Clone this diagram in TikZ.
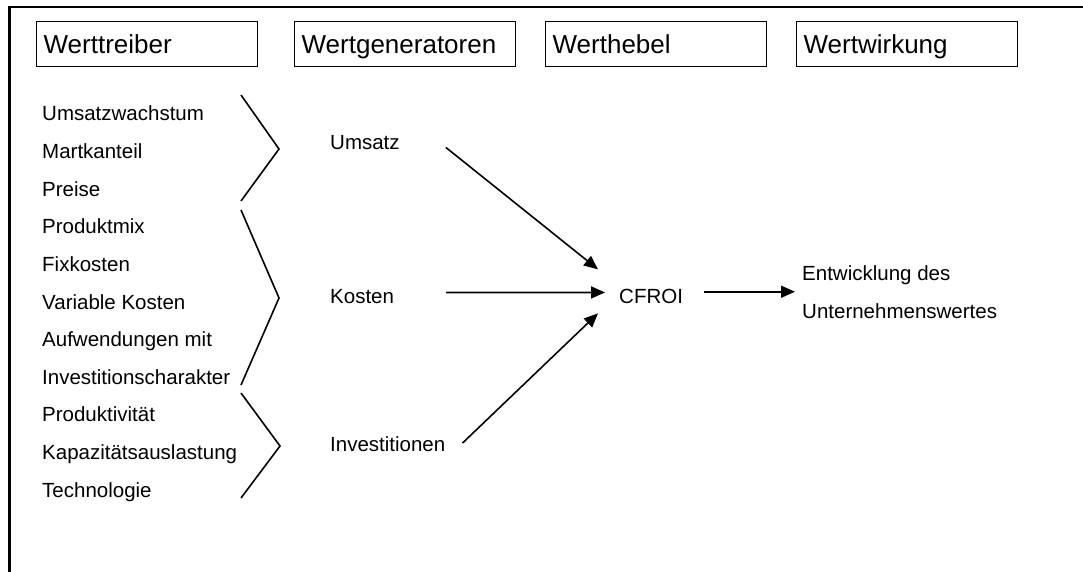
\documentclass[tikz,border=0pt]{standalone}
\usepackage{fontspec}
\setmainfont{Liberation Sans}
\usetikzlibrary{arrows.meta,calc}
\tikzset{
  head/.style={draw, line width=1.3pt, anchor=north west, inner xsep=7pt, inner ysep=0pt,
    minimum height=45pt, text width=207pt, align=left, text height=22pt, text depth=3pt,
    font=\fontsize{26}{30}\selectfont},
  item/.style={anchor=base west, inner sep=0pt, font=\fontsize{20.5}{24}\selectfont},
  brack/.style={line width=1.6pt},
  arr/.style={line width=1.6pt, -{Triangle[length=14pt,width=12pt]}},
  frame/.style={line width=2.2pt}
}
\begin{document}
\begin{tikzpicture}[x=1pt,y=-1pt]
\useasboundingbox (0,0) rectangle (1083,572);
\draw[frame] (9.5,572) -- (9.5,7.3) -- (1083,7.3);

% header boxes
\node[head] (h1) at (36,21) {Werttreiber};
\node[head] (h2) at (294,21) {Wertgeneratoren};
\node[head] (h3) at (545,21) {Werthebel};
\node[head] (h4) at (796,21) {Wertwirkung};

% left column
\node[item] (l1) at (42,121) {Umsatzwachstum};
\node[item] (l2) at (42,158.6) {Martkanteil};
\node[item] (l3) at (42,196.2) {Preise};
\node[item] (l4) at (42,233.8) {Produktmix};
\node[item] (l5) at (42,271.4) {Fixkosten};
\node[item] (l6) at (42,309) {Variable Kosten};
\node[item] (l7) at (42,346.6) {Aufwendungen mit};
\node[item] (l8) at (42,384.2) {Investitionscharakter};
\node[item] (l9) at (42,421.8) {Produktivität};
\node[item] (l10) at (42,459.4) {Kapazitätsauslastung};
\node[item] (l11) at (42,497) {Technologie};

% brackets
\draw[brack] (241,95) -- (279,149) -- (241,201);
\draw[brack] (241,210) -- (279,298) -- (241,385);
\draw[brack] (241,393) -- (280,446) -- (241,498);

% generators
\node[item] (umsatz) at (330,150) {Umsatz};
\node[item] (kosten) at (330,303) {Kosten};
\node[item] (invest) at (330,451) {Investitionen};

% lever and effect
\node[item] (cfroi) at (619,303) {CFROI};
\node[anchor=north west, inner sep=0pt, align=left, font=\fontsize{20.5}{38}\selectfont] (entw) at (802,265)
  {Entwicklung des\\Unternehmenswertes};

% arrows
\draw[arr] ($(umsatz.east)+(46,4.4)$) -- ($(cfroi.west)+(-21,-26.6)$);
\draw[arr] ($(kosten.east)+(52,-3.5)$) -- ($(cfroi.west)+(-14,-3.5)$);
\draw[arr] ($(invest.east)+(17,-0.6)$) -- ($(cfroi.west)+(-21,17.4)$);
\draw[arr] ($(cfroi.east |- entw.west)+(21,0)$) -- ($(entw.west)+(-7,0)$);
\end{tikzpicture}
\end{document}
